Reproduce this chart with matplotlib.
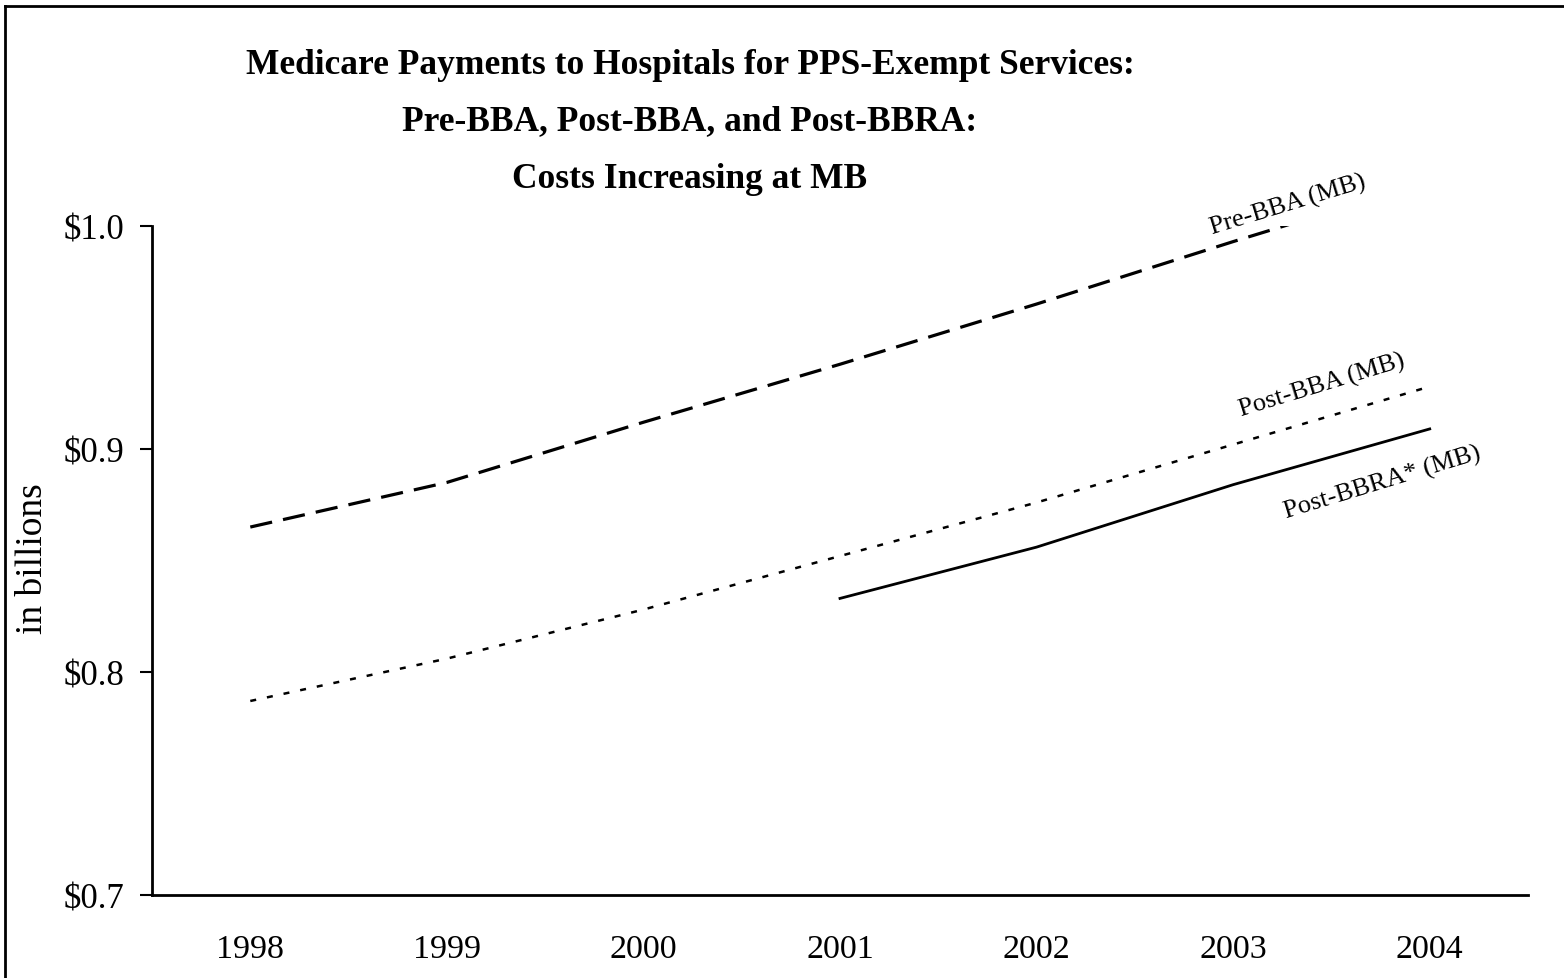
import matplotlib.pyplot as plt
from matplotlib.lines import Line2D

years = ["1998", "1999", "2000", "2001", "2002", "2003", "2004"]
pre_bba = [0.865, 0.885, 0.912, 0.938, 0.965, 0.993, 1.020]
post_bba = [0.787, 0.806, 0.828, 0.852, 0.876, 0.902, 0.928]
post_bbra_years = ["2001", "2002", "2003", "2004"]
post_bbra = [0.833, 0.856, 0.884, 0.909]

title_lines = [
    "Medicare Payments to Hospitals for PPS-Exempt Services:",
    "Pre-BBA, Post-BBA, and Post-BBRA:",
    "Costs Increasing at MB",
]
yticks = [0.7, 0.8, 0.9, 1.0]

plt.rcParams["font.family"] = ["Liberation Serif", "DejaVu Serif"]

fig = plt.figure(figsize=(15.64, 9.79), dpi=100)
ax = fig.add_axes([152 / 1564, 1 - 896 / 979, 1376 / 1564, 669 / 979])

x_all = list(range(len(years)))
x_bbra = [years.index(y) for y in post_bbra_years]

ax.plot(x_all, pre_bba, color="black", lw=2.3, linestyle=(0, (7, 3.5)), solid_capstyle="butt")
ax.plot(x_all, post_bba, color="black", lw=1.8, linestyle=(0, (2.4, 4.4)))
ax.plot(x_bbra, post_bbra, color="black", lw=2.0)

ax.set_xlim(-0.5, len(years) - 0.5)
ax.set_ylim(0.7, 1.0)
ax.set_xticks(x_all)
ax.set_xticklabels(years)
ax.set_yticks(yticks)
ax.set_yticklabels([f"${v:.1f}" for v in yticks])

ax.tick_params(axis="x", length=0, pad=28, labelsize=24.5)
ax.tick_params(axis="y", length=9, width=1.5, direction="out", pad=11, labelsize=25)
for side in ("top", "right"):
    ax.spines[side].set_visible(False)
for side in ("left", "bottom"):
    ax.spines[side].set_linewidth(2)

ax.set_ylabel("in billions", fontsize=27)
ax.yaxis.set_label_coords(-0.074, 0.505)

# series labels, rotated along the lines
ax.text(5.28, 1.0095, "Pre-BBA (MB)", fontsize=19, rotation=17, ha="center", va="center")
ax.text(5.45, 0.929, "Post-BBA (MB)", fontsize=19, rotation=17, ha="center", va="center")
ax.text(5.76, 0.885, "Post-BBRA* (MB)", fontsize=19, rotation=17, ha="center", va="center")

for i, line in enumerate(title_lines):
    fig.text(690 / 1564, 1 - (65 + 57 * i) / 979, line, fontsize=25.5, fontweight="bold",
             ha="center", va="center")

# frame around the picture (cut off at right and bottom)
fig.add_artist(Line2D([5 / 1564, 1.0], [1 - 7 / 979, 1 - 7 / 979], color="black", lw=2,
                      transform=fig.transFigure))
fig.add_artist(Line2D([5 / 1564, 5 / 1564], [0.0, 1 - 7 / 979], color="black", lw=2,
                      transform=fig.transFigure))

fig.savefig("out.png", dpi=100)
